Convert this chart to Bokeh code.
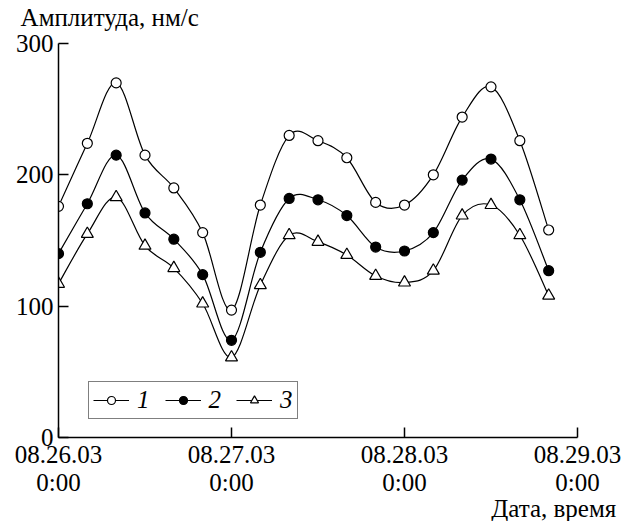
from bokeh.plotting import figure
from bokeh.models import (Range1d, FixedTicker, LinearAxis, Legend, LegendItem,
                          ColumnDataSource)
from bokeh.embed import file_html
from bokeh.resources import INLINE

# ---- data ----
hours = [0, 4, 8, 12, 16, 20, 24, 28, 32, 36, 40, 44, 48, 52, 56, 60, 64, 68]
series1 = [176, 224, 270, 215, 190, 156, 97, 177, 230, 226, 213, 179, 177, 200, 244, 267, 226, 158]
series2 = [140, 178, 215, 171, 151, 124, 74, 141, 182, 181, 169, 145, 142, 156, 196, 212, 181, 127]
series3 = [117, 155, 183, 146, 129, 102, 61, 116, 154, 149, 139, 123, 118, 127, 169, 177, 154, 108]
series_names = ["1", "2", "3"]
x_ticks = [0, 24, 48, 72]
x_tick_labels = ["08.26.03\n0:00", "08.27.03\n0:00", "08.28.03\n0:00", "08.29.03\n0:00"]
y_ticks = [0, 100, 200, 300]
y_title = "Амплитуда, нм/с"
x_title = "Дата, время"

FONT = "Liberation Serif"
FS = "25px"

# horizontal anchor (in hours) of the two titles
Y_TITLE_AT = 7.1
X_TITLE_AT = 68.7


def bezier_source(x, y):
    n = len(x)
    d = dict(x0=[], y0=[], x1=[], y1=[], cx0=[], cy0=[], cx1=[], cy1=[])
    for i in range(n - 1):
        a = i - 1 if i > 0 else i
        b = i + 2 if i + 2 < n else i + 1
        d["x0"].append(x[i]); d["y0"].append(y[i])
        d["x1"].append(x[i + 1]); d["y1"].append(y[i + 1])
        d["cx0"].append(x[i] + (x[i + 1] - x[a]) / 6)
        d["cy0"].append(y[i] + (y[i + 1] - y[a]) / 6)
        d["cx1"].append(x[i + 1] - (x[b] - x[i]) / 6)
        d["cy1"].append(y[i + 1] - (y[b] - y[i]) / 6)
    return ColumnDataSource(d)


p = figure(frame_width=519, frame_height=394, output_backend="svg", toolbar_location=None,
           x_range=Range1d(0, 72), y_range=Range1d(0, 300),
           min_border_left=58, min_border_right=50,
           min_border_top=43, min_border_bottom=70)
p.outline_line_color = None
p.xgrid.visible = False
p.ygrid.visible = False
p.background_fill_color = "white"
p.border_fill_color = "white"

for ax in (p.xaxis[0], p.yaxis[0]):
    ax.axis_line_width = 1.5
    ax.axis_line_color = "black"
    ax.major_tick_in = 10
    ax.major_tick_out = 0
    ax.major_tick_line_width = 1.5
    ax.major_tick_line_color = "black"
    ax.minor_tick_line_color = None
    ax.major_label_text_font = FONT
    ax.major_label_text_font_size = FS
    ax.major_label_text_color = "black"

p.xaxis.ticker = FixedTicker(ticks=x_ticks)
p.xaxis.major_label_overrides = {t: l for t, l in zip(x_ticks, x_tick_labels)}
p.xaxis.major_label_standoff = 3
p.xaxis.major_label_text_line_height = 1.05
p.yaxis.ticker = FixedTicker(ticks=y_ticks)
p.yaxis.major_label_standoff = 5


def title_axis(text, at, standoff):
    ax = LinearAxis(ticker=FixedTicker(ticks=[at]),
                    major_label_overrides={at: text},
                    axis_line_color=None, major_tick_line_color=None,
                    minor_tick_line_color=None, major_label_standoff=standoff,
                    major_label_text_font=FONT, major_label_text_font_size=FS,
                    major_label_text_color="black")
    return ax


p.add_layout(title_axis(y_title, Y_TITLE_AT, 7), "above")
p.add_layout(title_axis(x_title, X_TITLE_AT, -10), "below")

markers = [
    dict(marker="circle", size=10, fill_color="white"),
    dict(marker="circle", size=10, fill_color="black"),
    dict(marker="triangle", size=12, fill_color="white"),
]
items = []
for ys, mk, name in zip([series1, series2, series3], markers, series_names):
    bz = p.bezier("x0", "y0", "x1", "y1", "cx0", "cy0", "cx1", "cy1",
                  source=bezier_source(hours, ys), line_color="black", line_width=1.2)
    sc = p.scatter(hours, ys, marker=mk["marker"], size=mk["size"],
                   fill_color=mk["fill_color"], line_color="black", line_width=1.2)
    items.append(LegendItem(label=name, renderers=[bz, sc]))

legend = Legend(items=items, location=(30, 18), orientation="horizontal",
                glyph_width=36, glyph_height=20, label_width=12, label_height=20,
                label_standoff=8, spacing=15, padding=4, margin=0,
                label_text_font=FONT, label_text_font_size=FS,
                label_text_font_style="italic", label_text_color="black",
                border_line_color="black", border_line_width=1.5,
                background_fill_alpha=1.0)
p.add_layout(legend, "center")

open("out.html", "w").write(file_html(p, INLINE))
